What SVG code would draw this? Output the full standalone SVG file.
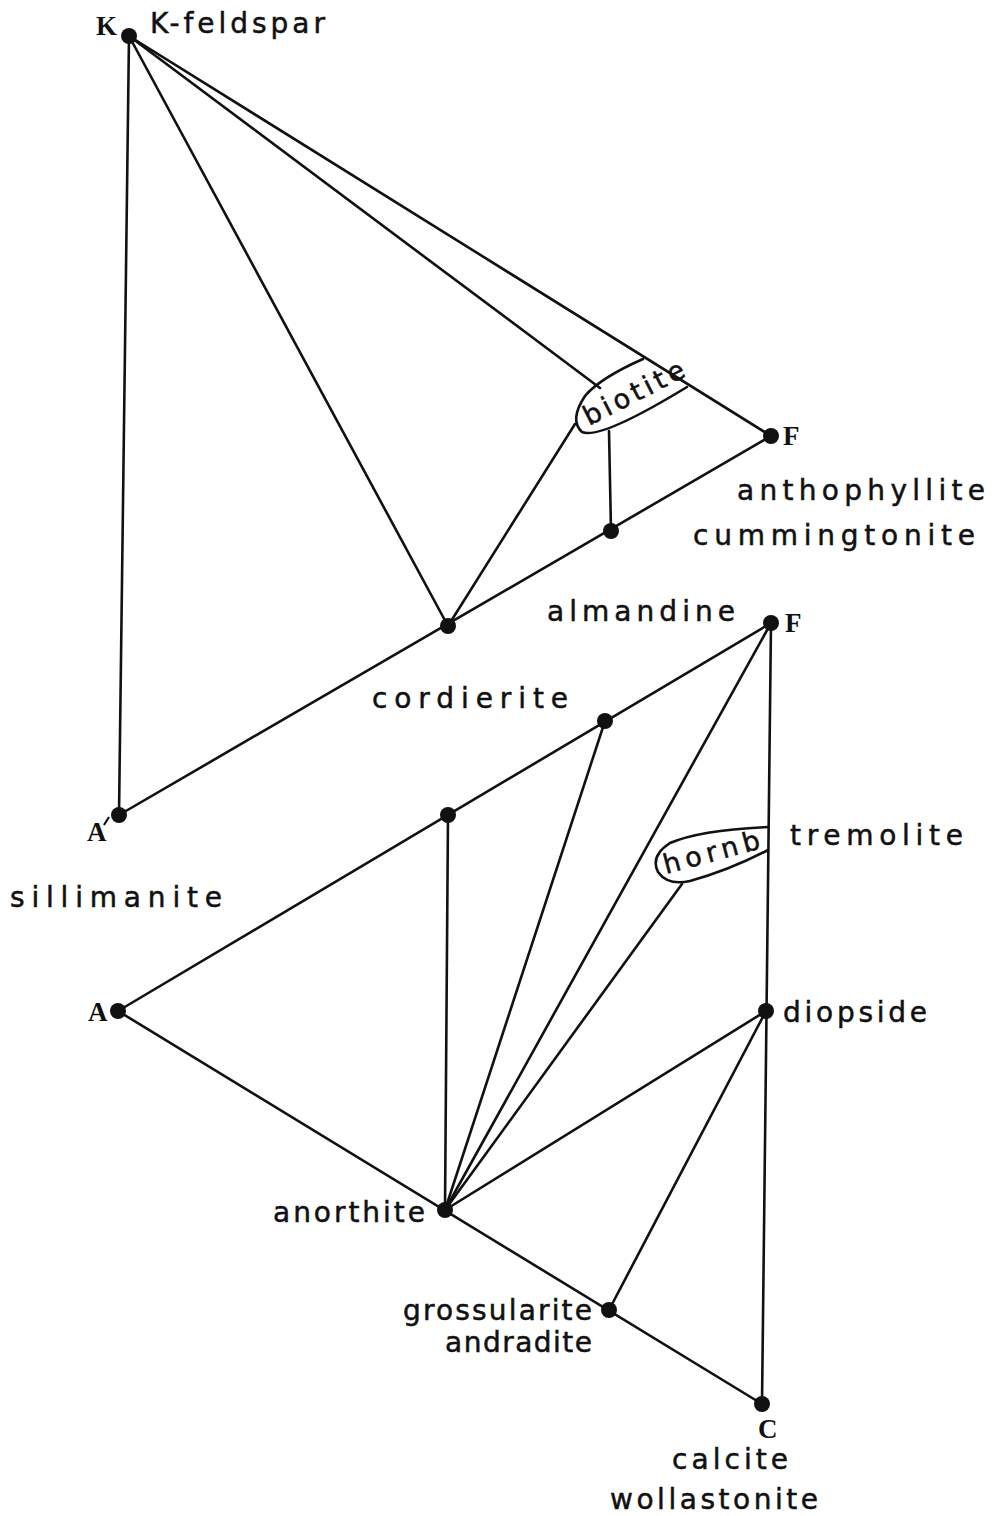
<svg xmlns="http://www.w3.org/2000/svg" width="995" height="1516" viewBox="0 0 995 1516">
<style>
.ln{stroke:#111;stroke-width:2.6;fill:none;stroke-linecap:round}
.dot{fill:#111}
.lab{font-family:"DejaVu Sans","Liberation Sans",sans-serif;font-size:28px;fill:#111;stroke:#111;stroke-width:0.5}
.sm{font-family:"DejaVu Sans","Liberation Sans",sans-serif;font-size:27px;fill:#111;stroke:#111;stroke-width:0.5}
.cap{font-family:"Liberation Serif","DejaVu Serif",serif;font-weight:bold;font-size:27px;fill:#111}
</style>
<rect width="995" height="1516" fill="#fff"/>
<g id="connectors">
<line class="ln" x1="129" y1="36" x2="119" y2="815"/>
<line class="ln" x1="119" y1="815" x2="771" y2="436"/>
<line class="ln" x1="129" y1="36" x2="771" y2="436"/>
<line class="ln" x1="129" y1="36" x2="448" y2="626"/>
<line class="ln" x1="129" y1="36" x2="600" y2="388"/>
<line class="ln" x1="575" y1="424" x2="448" y2="626"/>
<line class="ln" x1="609" y1="431" x2="611" y2="531"/>
<line class="ln" x1="118" y1="1011" x2="771" y2="623"/>
<line class="ln" x1="118" y1="1011" x2="762" y2="1404"/>
<line class="ln" x1="771" y1="623" x2="762" y2="1404"/>
<line class="ln" x1="445" y1="1210" x2="448" y2="815"/>
<line class="ln" x1="445" y1="1210" x2="605" y2="721"/>
<line class="ln" x1="445" y1="1210" x2="771" y2="623"/>
<line class="ln" x1="445" y1="1210" x2="682" y2="884"/>
<line class="ln" x1="445" y1="1210" x2="766" y2="1011"/>
<line class="ln" x1="766" y1="1011" x2="609" y2="1310"/>
</g>
<g id="K">
<circle class="dot" cx="129" cy="36" r="8"/>
<text class="cap" x="96" y="35">K</text>
<text class="lab" x="150" y="33" textLength="175" lengthAdjust="spacing">K-feldspar</text>
</g>
<g id="Aprime">
<circle class="dot" cx="119" cy="815" r="8"/>
<text class="cap" x="87" y="841">A</text>
<line x1="104" y1="825" x2="109" y2="817" stroke="#111" stroke-width="2.2"/>
<text class="lab" x="10" y="907" textLength="212" lengthAdjust="spacing">sillimanite</text>
</g>
<g id="Ftop">
<circle class="dot" cx="771" cy="436" r="8"/>
<text class="cap" x="783" y="445">F</text>
<text class="lab" x="737" y="500" textLength="248" lengthAdjust="spacing">anthophyllite</text>
<text class="lab" x="693" y="545" textLength="282" lengthAdjust="spacing">cummingtonite</text>
</g>
<g id="almandine">
<circle class="dot" cx="611" cy="531" r="8"/>
<text class="lab" x="547" y="621" textLength="188" lengthAdjust="spacing">almandine</text>
</g>
<g id="cordierite">
<circle class="dot" cx="448" cy="626" r="8"/>
<text class="lab" x="372" y="708" textLength="196" lengthAdjust="spacing">cordierite</text>
</g>
<g id="biotite">
<path class="ln" d="M643,359 Q600,378 585,396 Q569,420 582,432 Q600,440 687,387"/>
<text class="sm" transform="translate(589,426) rotate(-27)" textLength="110" lengthAdjust="spacing">biotite</text>
</g>
<g id="Fbottom">
<circle class="dot" cx="771" cy="623" r="8"/>
<text class="cap" x="785" y="632">F</text>
</g>
<g id="ptAF1">
<circle class="dot" cx="605" cy="721" r="8"/>
</g>
<g id="ptAF2">
<circle class="dot" cx="448" cy="815" r="8"/>
</g>
<g id="hornb">
<path class="ln" d="M768,827 Q700,830 670,843 Q650,856 658,872 Q668,886 690,881 Q730,870 768,850"/>
<text class="sm" transform="translate(666,874) rotate(-15)" textLength="99" lengthAdjust="spacing">hornb</text>
</g>
<g id="tremolite">
<text class="lab" x="790" y="845" textLength="173" lengthAdjust="spacing">tremolite</text>
</g>
<g id="A">
<circle class="dot" cx="118" cy="1011" r="8"/>
<text class="cap" x="88" y="1021">A</text>
</g>
<g id="diopside">
<circle class="dot" cx="766" cy="1011" r="8"/>
<text class="lab" x="783" y="1022" textLength="144" lengthAdjust="spacing">diopside</text>
</g>
<g id="anorthite">
<circle class="dot" cx="445" cy="1210" r="8"/>
<text class="lab" x="273" y="1222" textLength="152" lengthAdjust="spacing">anorthite</text>
</g>
<g id="grossularite">
<circle class="dot" cx="609" cy="1310" r="8"/>
<text class="lab" x="403" y="1320" textLength="189" lengthAdjust="spacing">grossularite</text>
<text class="lab" x="445" y="1352" textLength="147" lengthAdjust="spacing">andradite</text>
</g>
<g id="C">
<circle class="dot" cx="762" cy="1404" r="8"/>
<text class="cap" x="758" y="1438">C</text>
<text class="lab" x="672" y="1469" textLength="116" lengthAdjust="spacing">calcite</text>
<text class="lab" x="610" y="1509" textLength="208" lengthAdjust="spacing">wollastonite</text>
</g>
</svg>
